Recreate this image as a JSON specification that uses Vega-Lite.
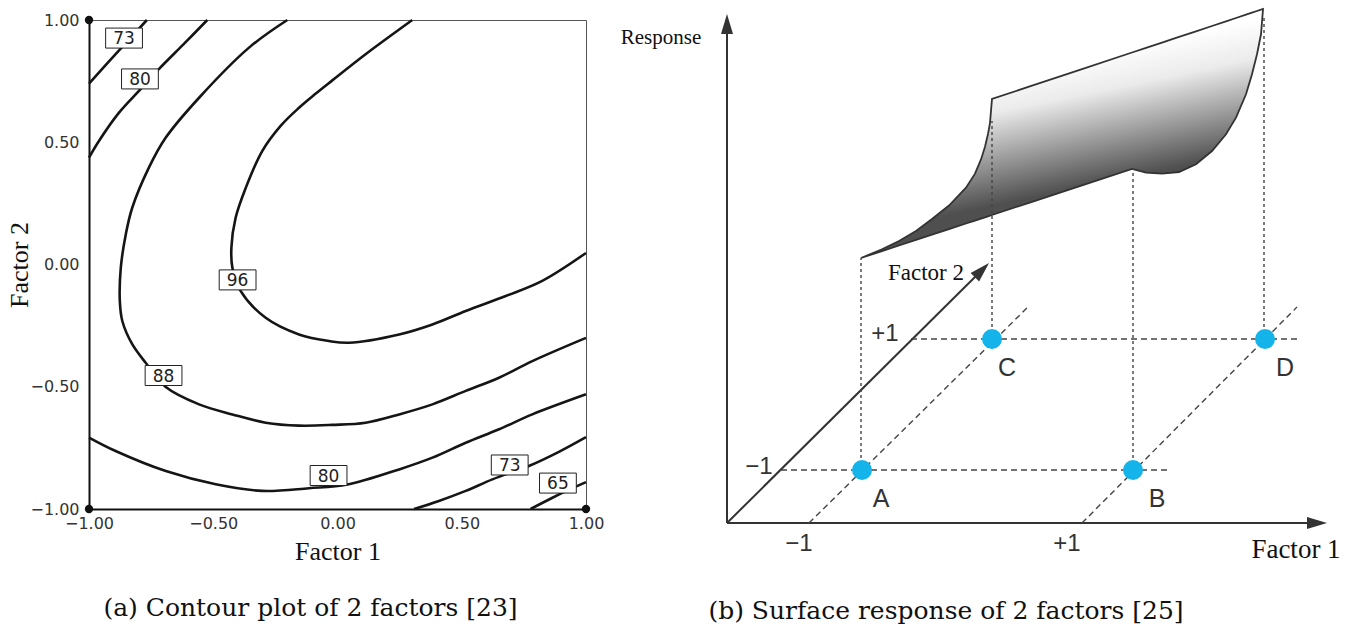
{
  "$schema": "https://vega.github.io/schema/vega-lite/v6.json",
  "background": "white",
  "padding": {"left": 6, "top": 5, "right": 5, "bottom": 5},
  "bounds": "flush",
  "spacing": 23,
  "config": {
    "view": {"stroke": null},
    "axis": {
      "grid": false, "ticks": false, "domainColor": "#111", "domainWidth": 2,
      "labelFont": "DejaVu Sans", "labelFontSize": 16, "labelColor": "#333",
      "titleFont": "Liberation Serif", "titleFontSize": 26, "titleFontWeight": "normal", "titleColor": "#111"
    }
  },
  "datasets": {
    "contours": [
      {"curve": "73a", "i": 0, "f1": -1, "f2": 0.74},
      {"curve": "73a", "i": 1, "f1": -0.88, "f2": 0.875},
      {"curve": "73a", "i": 2, "f1": -0.767, "f2": 1.0},
      {"curve": "80a", "i": 0, "f1": -1, "f2": 0.437},
      {"curve": "80a", "i": 1, "f1": -0.96, "f2": 0.505},
      {"curve": "80a", "i": 2, "f1": -0.88, "f2": 0.62},
      {"curve": "80a", "i": 3, "f1": -0.799, "f2": 0.71},
      {"curve": "80a", "i": 4, "f1": -0.718, "f2": 0.8},
      {"curve": "80a", "i": 5, "f1": -0.62, "f2": 0.9},
      {"curve": "80a", "i": 6, "f1": -0.524, "f2": 1.0},
      {"curve": "88", "i": 0, "f1": -0.202, "f2": 1.0},
      {"curve": "88", "i": 1, "f1": -0.356, "f2": 0.887},
      {"curve": "88", "i": 2, "f1": -0.557, "f2": 0.682},
      {"curve": "88", "i": 3, "f1": -0.691, "f2": 0.519},
      {"curve": "88", "i": 4, "f1": -0.759, "f2": 0.396},
      {"curve": "88", "i": 5, "f1": -0.826, "f2": 0.232},
      {"curve": "88", "i": 6, "f1": -0.852, "f2": 0.123},
      {"curve": "88", "i": 7, "f1": -0.872, "f2": -0.013},
      {"curve": "88", "i": 8, "f1": -0.876, "f2": -0.149},
      {"curve": "88", "i": 9, "f1": -0.866, "f2": -0.231},
      {"curve": "88", "i": 10, "f1": -0.826, "f2": -0.326},
      {"curve": "88", "i": 11, "f1": -0.772, "f2": -0.402},
      {"curve": "88", "i": 12, "f1": -0.691, "f2": -0.501},
      {"curve": "88", "i": 13, "f1": -0.557, "f2": -0.572},
      {"curve": "88", "i": 14, "f1": -0.423, "f2": -0.613},
      {"curve": "88", "i": 15, "f1": -0.289, "f2": -0.647},
      {"curve": "88", "i": 16, "f1": -0.155, "f2": -0.659},
      {"curve": "88", "i": 17, "f1": -0.021, "f2": -0.656},
      {"curve": "88", "i": 18, "f1": 0.113, "f2": -0.647},
      {"curve": "88", "i": 19, "f1": 0.248, "f2": -0.613},
      {"curve": "88", "i": 20, "f1": 0.382, "f2": -0.572},
      {"curve": "88", "i": 21, "f1": 0.516, "f2": -0.517},
      {"curve": "88", "i": 22, "f1": 0.65, "f2": -0.463},
      {"curve": "88", "i": 23, "f1": 0.784, "f2": -0.395},
      {"curve": "88", "i": 24, "f1": 1.0, "f2": -0.3},
      {"curve": "96", "i": 0, "f1": 0.301, "f2": 1.0},
      {"curve": "96", "i": 1, "f1": 0.113, "f2": 0.86},
      {"curve": "96", "i": 2, "f1": -0.021, "f2": 0.753},
      {"curve": "96", "i": 3, "f1": -0.09, "f2": 0.697},
      {"curve": "96", "i": 4, "f1": -0.155, "f2": 0.641},
      {"curve": "96", "i": 5, "f1": -0.228, "f2": 0.568},
      {"curve": "96", "i": 6, "f1": -0.303, "f2": 0.464},
      {"curve": "96", "i": 7, "f1": -0.369, "f2": 0.314},
      {"curve": "96", "i": 8, "f1": -0.41, "f2": 0.191},
      {"curve": "96", "i": 9, "f1": -0.427, "f2": 0.069},
      {"curve": "96", "i": 10, "f1": -0.423, "f2": -0.013},
      {"curve": "96", "i": 11, "f1": -0.39, "f2": -0.108},
      {"curve": "96", "i": 12, "f1": -0.289, "f2": -0.218},
      {"curve": "96", "i": 13, "f1": -0.155, "f2": -0.286},
      {"curve": "96", "i": 14, "f1": -0.034, "f2": -0.313},
      {"curve": "96", "i": 15, "f1": 0.046, "f2": -0.32},
      {"curve": "96", "i": 16, "f1": 0.248, "f2": -0.286},
      {"curve": "96", "i": 17, "f1": 0.382, "f2": -0.245},
      {"curve": "96", "i": 18, "f1": 0.516, "f2": -0.19},
      {"curve": "96", "i": 19, "f1": 0.677, "f2": -0.129},
      {"curve": "96", "i": 20, "f1": 0.824, "f2": -0.067},
      {"curve": "96", "i": 21, "f1": 1.0, "f2": 0.047},
      {"curve": "80b", "i": 0, "f1": -1, "f2": -0.708},
      {"curve": "80b", "i": 1, "f1": -0.893, "f2": -0.763},
      {"curve": "80b", "i": 2, "f1": -0.691, "f2": -0.845},
      {"curve": "80b", "i": 3, "f1": -0.49, "f2": -0.899},
      {"curve": "80b", "i": 4, "f1": -0.303, "f2": -0.926},
      {"curve": "80b", "i": 5, "f1": -0.115, "f2": -0.915},
      {"curve": "80b", "i": 6, "f1": 0.04, "f2": -0.9},
      {"curve": "80b", "i": 7, "f1": 0.248, "f2": -0.838},
      {"curve": "80b", "i": 8, "f1": 0.382, "f2": -0.79},
      {"curve": "80b", "i": 9, "f1": 0.516, "f2": -0.729},
      {"curve": "80b", "i": 10, "f1": 0.65, "f2": -0.674},
      {"curve": "80b", "i": 11, "f1": 0.784, "f2": -0.613},
      {"curve": "80b", "i": 12, "f1": 1.0, "f2": -0.531},
      {"curve": "73b", "i": 0, "f1": 0.308, "f2": -1.0},
      {"curve": "73b", "i": 1, "f1": 0.408, "f2": -0.967},
      {"curve": "73b", "i": 2, "f1": 0.516, "f2": -0.926},
      {"curve": "73b", "i": 3, "f1": 0.623, "f2": -0.879},
      {"curve": "73b", "i": 4, "f1": 0.77, "f2": -0.824},
      {"curve": "73b", "i": 5, "f1": 0.891, "f2": -0.766},
      {"curve": "73b", "i": 6, "f1": 1.0, "f2": -0.706},
      {"curve": "65", "i": 0, "f1": 0.777, "f2": -1.0},
      {"curve": "65", "i": 1, "f1": 0.865, "f2": -0.954},
      {"curve": "65", "i": 2, "f1": 0.93, "f2": -0.922},
      {"curve": "65", "i": 3, "f1": 1.0, "f2": -0.89}
    ],
    "clabels": [
      {"label": "73", "f1": -0.859, "f2": 0.926},
      {"label": "80", "f1": -0.795, "f2": 0.759},
      {"label": "96", "f1": -0.402, "f2": -0.063},
      {"label": "88", "f1": -0.7, "f2": -0.454},
      {"label": "80", "f1": -0.036, "f2": -0.863},
      {"label": "73", "f1": 0.693, "f2": -0.82},
      {"label": "65", "f1": 0.887, "f2": -0.894}
    ],
    "xticks": [{"f1": -0.5}, {"f1": 0}, {"f1": 0.5}],
    "yticks": [{"f2": -0.5}, {"f2": 0}, {"f2": 0.5}],
    "corners": [{"f1": -1, "f2": 1}, {"f1": -1, "f2": -1}, {"f1": 1, "f2": -1}],
    "surface": [
      {"u": 252, "lo": 303, "hi": 303},
      {"u": 273, "lo": 309.9, "hi": 311.7},
      {"u": 290, "lo": 315.5, "hi": 320},
      {"u": 307, "lo": 321.1, "hi": 330},
      {"u": 323, "lo": 326.3, "hi": 342},
      {"u": 340, "lo": 331.9, "hi": 355.5},
      {"u": 357, "lo": 337.5, "hi": 373.3},
      {"u": 366, "lo": 340.4, "hi": 387.3},
      {"u": 372, "lo": 342.4, "hi": 401.6},
      {"u": 376, "lo": 343.7, "hi": 414.3},
      {"u": 379, "lo": 344.7, "hi": 427},
      {"u": 381, "lo": 345.4, "hi": 438.2},
      {"u": 383, "lo": 346, "hi": 462},
      {"u": 420, "lo": 358.2, "hi": 474.3},
      {"u": 470, "lo": 374.6, "hi": 490.9},
      {"u": 523, "lo": 392, "hi": 508.5},
      {"u": 537, "lo": 388.3, "hi": 513.1},
      {"u": 553, "lo": 387.3, "hi": 518.4},
      {"u": 570, "lo": 389, "hi": 524.1},
      {"u": 587, "lo": 396.7, "hi": 529.7},
      {"u": 603, "lo": 410, "hi": 535},
      {"u": 617, "lo": 426.7, "hi": 539.7},
      {"u": 627, "lo": 443.3, "hi": 543},
      {"u": 637, "lo": 466.7, "hi": 546.3},
      {"u": 643, "lo": 486.7, "hi": 548.3},
      {"u": 648, "lo": 506.7, "hi": 550},
      {"u": 652, "lo": 526.7, "hi": 551.3},
      {"u": 654, "lo": 551.7, "hi": 552}
    ],
    "axeslines": [
      {"axis": "Response", "u": 118, "v": 38, "u2": 118, "v2": 530},
      {"axis": "Factor 1", "u": 118, "v": 38, "u2": 700, "v2": 38},
      {"axis": "Factor 2", "u": 118, "v": 38, "u2": 368, "v2": 286}
    ],
    "dashes": [
      {"line": "Factor 2 = -1", "u": 172, "v": 91, "u2": 560, "v2": 91},
      {"line": "Factor 2 = +1", "u": 302, "v": 222, "u2": 690, "v2": 222},
      {"line": "Factor 1 = -1", "u": 200, "v": 38, "u2": 420, "v2": 255},
      {"line": "Factor 1 = +1", "u": 473, "v": 38, "u2": 688, "v2": 254}
    ],
    "drops": [
      {"point": "A", "u": 252, "v": 91, "u2": 252, "v2": 303},
      {"point": "C", "u": 383, "v": 222, "u2": 383, "v2": 440},
      {"point": "B", "u": 524, "v": 91, "u2": 524, "v2": 392},
      {"point": "D", "u": 655, "v": 222, "u2": 655, "v2": 545}
    ],
    "design": [
      {"point": "A", "u": 253, "v": 91, "lu": 272, "lv": 62},
      {"point": "B", "u": 524, "v": 91, "lu": 548, "lv": 62},
      {"point": "C", "u": 383, "v": 222, "lu": 398, "lv": 193},
      {"point": "D", "u": 656, "v": 222, "lu": 676, "lv": 193}
    ],
    "levels": [
      {"text": "−1", "u": 150, "v": 94},
      {"text": "+1", "u": 276, "v": 227},
      {"text": "−1", "u": 190, "v": 17},
      {"text": "+1", "u": 458, "v": 17}
    ]
  },
  "hconcat": [
    {
      "width": 497,
      "height": 489,
      "view": {"stroke": "#555", "strokeWidth": 1},
      "title": {
        "text": "(a) Contour plot of 2 factors [23]", "orient": "bottom", "frame": "group",
        "anchor": "middle", "baseline": "alphabetic", "offset": 52, "dx": -27,
        "font": "DejaVu Serif", "fontSize": 25, "fontWeight": "normal", "color": "#111"
      },
      "encoding": {
        "x": {"field": "f1", "type": "quantitative", "scale": {"domain": [-1, 1], "nice": false, "zero": false},
              "axis": {"title": "Factor 1", "values": [-1, -0.5, 0, 0.5, 1], "format": ".2f", "labelPadding": 6, "titlePadding": 7, "labelFlush": false}},
        "y": {"field": "f2", "type": "quantitative", "scale": {"domain": [-1, 1], "nice": false, "zero": false},
              "axis": {"title": "Factor 2", "values": [-1, -0.5, 0, 0.5, 1], "format": ".2f", "labelPadding": 10, "titlePadding": -3, "labelFlush": false}}
      },
      "layer": [
        {
          "data": {"name": "contours"},
          "mark": {"type": "line", "stroke": "#151515", "strokeWidth": 2.6, "interpolate": "catmull-rom"},
          "encoding": {
            "detail": {"field": "curve"},
            "order": {"field": "i", "type": "quantitative"}
          }
        },
        {
          "data": {"name": "xticks"},
          "mark": {"type": "rule", "stroke": "#111", "strokeWidth": 1.5},
          "encoding": {
            "y": {"datum": -1, "type": "quantitative"},
            "y2": {"datum": -0.935}
          }
        },
        {
          "data": {"name": "yticks"},
          "mark": {"type": "rule", "stroke": "#111", "strokeWidth": 1.5},
          "encoding": {
            "x": {"datum": -1, "type": "quantitative"},
            "x2": {"datum": -0.94}
          }
        },
        {
          "data": {"name": "clabels"},
          "mark": {"type": "point", "shape": "M-0.92,-0.5H0.92V0.5H-0.92Z", "size": 1600, "filled": true, "fill": "white", "stroke": "#222", "strokeWidth": 1, "opacity": 1}
        },
        {
          "data": {"name": "clabels"},
          "mark": {"type": "text", "font": "DejaVu Sans", "fontSize": 17, "color": "#222", "align": "center", "baseline": "middle", "dy": 1},
          "encoding": {"text": {"field": "label"}}
        },
        {
          "data": {"name": "corners"},
          "mark": {"type": "point", "filled": true, "color": "#111", "size": 70, "opacity": 1}
        }
      ]
    },
    {
      "width": 740,
      "height": 541,
      "view": {"stroke": null},
      "title": {
        "text": "(b) Surface response of 2 factors [25]", "orient": "bottom", "frame": "group",
        "anchor": "middle", "baseline": "alphabetic", "offset": 56, "dx": -33,
        "font": "DejaVu Serif", "fontSize": 25, "fontWeight": "normal", "color": "#111"
      },
      "layer": [
        {
          "data": {"name": "surface"},
          "mark": {
            "type": "area", "stroke": "#333", "strokeWidth": 1.8,
            "fill": {"gradient": "linear", "x1": 0.5, "y1": 0.2, "x2": 0.66, "y2": 0.68,
                     "stops": [{"offset": 0, "color": "#ffffff"}, {"offset": 0.3, "color": "#ebebeb"}, {"offset": 1, "color": "#4f4f4f"}]}
          },
          "encoding": {
            "x": {"field": "u", "type": "quantitative", "scale": {"domain": [0, 740], "nice": false, "zero": false}, "axis": null},
            "y": {"field": "lo", "type": "quantitative", "scale": {"domain": [0, 541], "nice": false, "zero": false}, "axis": null},
            "y2": {"field": "hi"}
          }
        },
        {
          "data": {"name": "axeslines"},
          "mark": {"type": "rule", "stroke": "#333", "strokeWidth": 2},
          "encoding": {
            "x": {"field": "u", "type": "quantitative", "axis": null},
            "y": {"field": "v", "type": "quantitative", "axis": null},
            "x2": {"field": "u2"},
            "y2": {"field": "v2"}
          }
        },
        {
          "data": {"values": [{"axis": "Response", "u": 118, "v": 547}]},
          "mark": {"type": "point", "shape": "M0,0L0.3,1L-0.3,1Z", "size": 1600, "filled": true, "color": "#333", "opacity": 1, "angle": 0},
          "encoding": {"x": {"field": "u", "type": "quantitative", "axis": null}, "y": {"field": "v", "type": "quantitative", "axis": null}}
        },
        {
          "data": {"values": [{"axis": "Factor 1", "u": 718, "v": 38}]},
          "mark": {"type": "point", "shape": "M0,0L0.3,1L-0.3,1Z", "size": 1600, "filled": true, "color": "#333", "opacity": 1, "angle": 90},
          "encoding": {"x": {"field": "u", "type": "quantitative", "axis": null}, "y": {"field": "v", "type": "quantitative", "axis": null}}
        },
        {
          "data": {"values": [{"axis": "Factor 2", "u": 380, "v": 298}]},
          "mark": {"type": "point", "shape": "M0,0L0.3,1L-0.3,1Z", "size": 1600, "filled": true, "color": "#333", "opacity": 1, "angle": 45},
          "encoding": {"x": {"field": "u", "type": "quantitative", "axis": null}, "y": {"field": "v", "type": "quantitative", "axis": null}}
        },
        {
          "data": {"name": "dashes"},
          "mark": {"type": "rule", "stroke": "#444", "strokeWidth": 1.4, "strokeDash": [6, 4]},
          "encoding": {
            "x": {"field": "u", "type": "quantitative", "axis": null},
            "y": {"field": "v", "type": "quantitative", "axis": null},
            "x2": {"field": "u2"},
            "y2": {"field": "v2"}
          }
        },
        {
          "data": {"name": "drops"},
          "mark": {"type": "rule", "stroke": "#444", "strokeWidth": 1.4, "strokeDash": [3, 3]},
          "encoding": {
            "x": {"field": "u", "type": "quantitative", "axis": null},
            "y": {"field": "v", "type": "quantitative", "axis": null},
            "x2": {"field": "u2"},
            "y2": {"field": "v2"}
          }
        },
        {
          "data": {"name": "design"},
          "mark": {"type": "point", "shape": "circle", "filled": true, "color": "#14b4eb", "size": 400, "opacity": 1},
          "encoding": {"x": {"field": "u", "type": "quantitative", "axis": null}, "y": {"field": "v", "type": "quantitative", "axis": null}}
        },
        {
          "data": {"name": "design"},
          "mark": {"type": "text", "font": "Liberation Sans", "fontSize": 25, "color": "#333", "align": "center", "baseline": "middle"},
          "encoding": {
            "x": {"field": "lu", "type": "quantitative", "axis": null},
            "y": {"field": "lv", "type": "quantitative", "axis": null},
            "text": {"field": "point"}
          }
        },
        {
          "data": {"name": "levels"},
          "mark": {"type": "text", "font": "Liberation Sans", "fontSize": 24, "color": "#333", "align": "center", "baseline": "middle"},
          "encoding": {
            "x": {"field": "u", "type": "quantitative", "axis": null},
            "y": {"field": "v", "type": "quantitative", "axis": null},
            "text": {"field": "text"}
          }
        },
        {
          "data": {"values": [{"text": "Response", "u": 52, "v": 523}]},
          "mark": {"type": "text", "font": "Liberation Serif", "fontSize": 21, "color": "#111", "align": "center", "baseline": "middle"},
          "encoding": {"x": {"field": "u", "type": "quantitative", "axis": null}, "y": {"field": "v", "type": "quantitative", "axis": null}, "text": {"field": "text"}}
        },
        {
          "data": {"values": [{"text": "Factor 2", "u": 317, "v": 288}]},
          "mark": {"type": "text", "font": "Liberation Serif", "fontSize": 23, "color": "#111", "align": "center", "baseline": "middle"},
          "encoding": {"x": {"field": "u", "type": "quantitative", "axis": null}, "y": {"field": "v", "type": "quantitative", "axis": null}, "text": {"field": "text"}}
        },
        {
          "data": {"values": [{"text": "Factor 1", "u": 687, "v": 11}]},
          "mark": {"type": "text", "font": "Liberation Serif", "fontSize": 27, "color": "#111", "align": "center", "baseline": "middle"},
          "encoding": {"x": {"field": "u", "type": "quantitative", "axis": null}, "y": {"field": "v", "type": "quantitative", "axis": null}, "text": {"field": "text"}}
        }
      ]
    }
  ]
}
